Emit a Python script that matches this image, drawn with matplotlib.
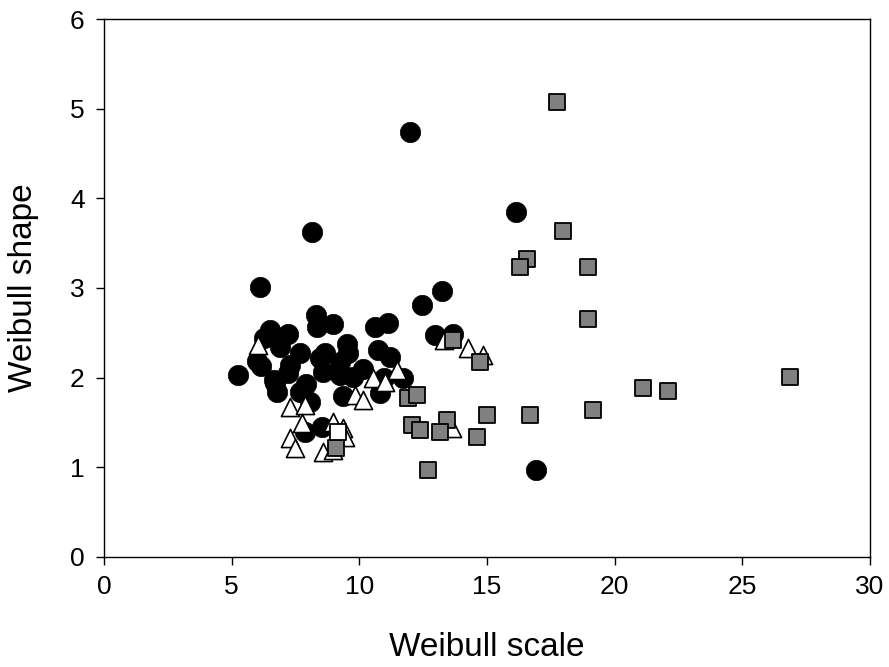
import matplotlib
matplotlib.use("Agg")
import matplotlib.pyplot as plt

plt.rcParams['font.family'] = ['Liberation Sans', 'DejaVu Sans']

# Black circles
circ_x = [12.0, 8.13, 6.11, 16.14, 13.25, 12.44, 16.92,
          8.29, 8.33, 8.97, 10.6, 11.14, 12.96, 13.66,
          5.26, 5.98, 6.15, 6.5, 6.25, 7.2, 6.7, 6.9, 7.68,
          7.2, 7.29, 7.68, 8.46, 8.58, 9.5, 9.56, 10.73, 11.2,
          8.66, 9.24, 10.15, 9.24, 9.76, 11.7, 9.37, 10.8,
          6.76, 6.65, 8.07, 7.87, 8.53, 7.9, 10.95]
circ_y = [4.74, 3.62, 3.01, 3.85, 2.97, 2.81, 0.97,
          2.70, 2.57, 2.60, 2.56, 2.61, 2.47, 2.49,
          2.03, 2.18, 2.13, 2.53, 2.44, 2.49, 1.94, 2.34, 2.27,
          2.05, 2.14, 1.84, 2.22, 2.06, 2.38, 2.28, 2.31, 2.23,
          2.27, 2.17, 2.10, 2.03, 2.01, 2.00, 1.79, 1.83,
          1.84, 1.97, 1.73, 1.39, 1.45, 1.93, 2.00]

# White triangles
tri_x = [6.03, 7.29, 7.87, 7.74, 7.29, 7.48, 8.58, 8.98, 8.98, 9.37, 9.43,
         9.83, 10.15, 10.54, 11.0, 11.47, 13.3, 14.27, 14.85, 13.63]
tri_y = [2.36, 1.67, 1.69, 1.49, 1.33, 1.22, 1.17, 1.19, 1.51, 1.44, 1.34,
         1.81, 1.75, 2.00, 1.95, 2.08, 2.42, 2.33, 2.25, 1.44]

# Grey squares
sq_x = [17.74, 17.98, 16.57, 16.3, 18.96, 18.96, 19.15, 21.1, 22.1, 26.87,
        13.68, 14.73, 11.9, 12.24, 12.05, 12.38, 13.43, 13.15, 15.0, 16.7,
        14.6, 12.7, 9.1]
sq_y = [5.07, 3.63, 3.32, 3.23, 3.23, 2.65, 1.64, 1.88, 1.85, 2.01,
        2.42, 2.17, 1.77, 1.81, 1.47, 1.42, 1.53, 1.39, 1.58, 1.58,
        1.34, 0.97, 1.21]

# White square
wsq_x = [9.18]
wsq_y = [1.39]

x_ticks = [0, 5, 10, 15, 20, 25, 30]
y_ticks = [0, 1, 2, 3, 4, 5, 6]

fig = plt.figure(figsize=(8.89, 6.67), dpi=100)
ax = fig.add_axes([0.117, 0.165, 0.8616, 0.8065])

ax.scatter(circ_x, circ_y, s=215, marker='o', c='black', edgecolors='black',
           linewidths=0.5, zorder=2)
ax.scatter(tri_x, tri_y, s=170, marker='^', c='white', edgecolors='black',
           linewidths=1.2, zorder=3)
ax.scatter(sq_x, sq_y, s=135, marker='s', c='#808080', edgecolors='black',
           linewidths=1.3, zorder=4)
ax.scatter(wsq_x, wsq_y, s=135, marker='s', c='white', edgecolors='black',
           linewidths=1.3, zorder=5)

ax.set_xlim(0, 30)
ax.set_ylim(0, 6)
ax.set_xticks(x_ticks)
ax.set_yticks(y_ticks)
ax.tick_params(direction='out', length=6, width=1, labelsize=19)
ax.tick_params(axis='x', pad=7)
ax.tick_params(axis='y', pad=8)
for sp in ax.spines.values():
    sp.set_linewidth(1)
ax.set_xlabel('Weibull scale', fontsize=24, labelpad=24)
ax.set_ylabel('Weibull shape', fontsize=24, labelpad=22)

fig.savefig('out.png', dpi=100)
